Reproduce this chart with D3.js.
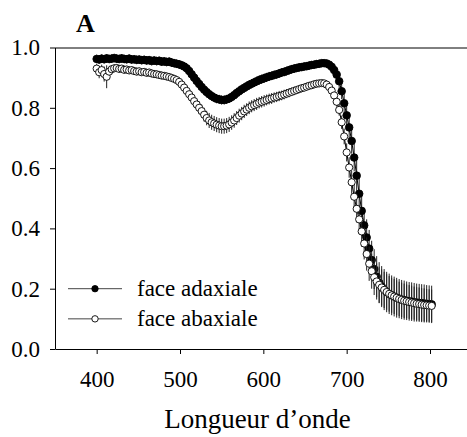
<!DOCTYPE html>
<html><head><meta charset="utf-8">
<script src="https://cdn.jsdelivr.net/npm/d3@7/dist/d3.min.js"></script>
<style>
html,body{margin:0;padding:0;background:#fff;}
svg text{font-family:"Liberation Serif","Times New Roman",serif;fill:#000;}
</style></head>
<body>
<svg id="chart" width="467" height="437"></svg>
<script>
// wavelength grid (nm), one point every 3 nm from 400 to 802
const wavelengths = d3.range(400, 803, 3);

// face adaxiale (filled circles)
const adaxiale = [
  0.962,0.960,0.963,0.961,0.964,0.962,0.963,0.965,0.963,0.962,
  0.964,0.962,0.961,0.963,0.960,0.961,0.959,0.960,0.958,0.959,
  0.957,0.958,0.955,0.957,0.955,0.956,0.953,0.954,0.952,0.953,
  0.950,0.948,0.946,0.944,0.941,0.937,0.931,0.922,0.911,0.900,
  0.889,0.879,0.869,0.860,0.852,0.845,0.839,0.834,0.830,0.828,
  0.826,0.826,0.828,0.831,0.836,0.842,0.849,0.855,0.861,0.866,
  0.871,0.876,0.880,0.884,0.888,0.892,0.895,0.898,0.901,0.904,
  0.906,0.909,0.911,0.914,0.917,0.919,0.922,0.925,0.928,0.930,
  0.932,0.934,0.935,0.937,0.938,0.940,0.942,0.943,0.945,0.946,
  0.948,0.948,0.947,0.943,0.936,0.925,0.910,0.888,0.855,0.815,
  0.775,0.735,0.690,0.635,0.575,0.515,0.458,0.410,0.370,0.333,
  0.295,0.265,0.240,0.220,0.207,0.197,0.189,0.183,0.178,0.174,
  0.170,0.167,0.164,0.162,0.160,0.158,0.157,0.155,0.154,0.153,
  0.152,0.151,0.150,0.149,0.148
];
const adaxialeErr = [
  0.014,0.014,0.014,0.014,0.014,0.014,0.014,0.014,0.014,0.014,
  0.014,0.014,0.014,0.014,0.014,0.014,0.014,0.014,0.014,0.014,
  0.014,0.014,0.014,0.014,0.014,0.014,0.014,0.014,0.014,0.014,
  0.014,0.014,0.014,0.014,0.014,0.015,0.015,0.015,0.015,0.015,
  0.015,0.015,0.015,0.015,0.015,0.015,0.015,0.015,0.015,0.015,
  0.015,0.015,0.015,0.015,0.015,0.015,0.015,0.015,0.015,0.015,
  0.015,0.015,0.015,0.015,0.015,0.015,0.015,0.015,0.015,0.015,
  0.014,0.014,0.014,0.014,0.014,0.014,0.014,0.014,0.014,0.014,
  0.013,0.013,0.013,0.013,0.013,0.013,0.013,0.013,0.013,0.013,
  0.012,0.012,0.012,0.012,0.013,0.015,0.018,0.022,0.026,0.030,
  0.034,0.038,0.042,0.046,0.050,0.053,0.056,0.058,0.060,0.062,
  0.064,0.066,0.068,0.068,0.068,0.068,0.067,0.067,0.066,0.066,
  0.066,0.065,0.065,0.065,0.064,0.064,0.064,0.064,0.063,0.063,
  0.063,0.063,0.062,0.062,0.062
];

// face abaxiale (open circles)
const abaxiale = [
  0.930,0.918,0.925,0.912,0.903,0.920,0.928,0.931,0.932,0.929,
  0.930,0.926,0.927,0.924,0.925,0.922,0.920,0.921,0.918,0.919,
  0.916,0.917,0.914,0.912,0.911,0.909,0.907,0.906,0.904,0.902,
  0.899,0.896,0.892,0.886,0.877,0.867,0.856,0.845,0.834,0.822,
  0.811,0.800,0.789,0.777,0.766,0.758,0.752,0.748,0.744,0.741,
  0.739,0.739,0.741,0.745,0.751,0.758,0.766,0.774,0.781,0.788,
  0.794,0.800,0.805,0.809,0.813,0.817,0.820,0.823,0.826,0.829,
  0.831,0.834,0.836,0.839,0.841,0.844,0.847,0.850,0.853,0.856,
  0.859,0.862,0.865,0.867,0.870,0.873,0.875,0.878,0.880,0.881,
  0.882,0.881,0.877,0.869,0.857,0.841,0.820,0.793,0.752,0.705,
  0.652,0.602,0.553,0.505,0.465,0.430,0.390,0.350,0.315,0.283,
  0.258,0.238,0.224,0.213,0.204,0.196,0.189,0.183,0.178,0.174,
  0.170,0.166,0.163,0.160,0.158,0.156,0.154,0.152,0.150,0.149,
  0.147,0.146,0.145,0.144,0.143
];
const abaxialeErr = [
  0.015,0.020,0.018,0.025,0.038,0.015,0.012,0.012,0.012,0.012,
  0.012,0.012,0.012,0.012,0.012,0.012,0.012,0.012,0.012,0.012,
  0.012,0.012,0.012,0.012,0.012,0.012,0.012,0.012,0.012,0.012,
  0.012,0.012,0.012,0.013,0.014,0.015,0.016,0.017,0.018,0.019,
  0.020,0.021,0.022,0.023,0.024,0.025,0.025,0.025,0.025,0.025,
  0.025,0.025,0.025,0.025,0.024,0.024,0.023,0.023,0.022,0.022,
  0.021,0.021,0.020,0.020,0.020,0.019,0.019,0.019,0.018,0.018,
  0.018,0.017,0.017,0.017,0.016,0.016,0.015,0.015,0.014,0.014,
  0.013,0.013,0.012,0.012,0.011,0.011,0.010,0.010,0.010,0.010,
  0.010,0.010,0.010,0.011,0.012,0.014,0.016,0.019,0.022,0.026,
  0.030,0.034,0.038,0.042,0.045,0.048,0.051,0.053,0.055,0.057,
  0.058,0.059,0.060,0.060,0.060,0.060,0.059,0.059,0.058,0.058,
  0.058,0.057,0.057,0.057,0.056,0.056,0.056,0.055,0.055,0.055,
  0.055,0.055,0.054,0.054,0.054
];

const xTicks = [400, 500, 600, 700, 800];
const yTicks = [0.0, 0.2, 0.4, 0.6, 0.8, 1.0];
const seriesNames = ["face adaxiale", "face abaxiale"];
const panelLabel = "A";
const xTitle = "Longueur d\u2019onde";

const svg = d3.select("#chart");
const x = d3.scaleLinear().domain([350, 850]).range([55, 471.67]);
const y = d3.scaleLinear().domain([0, 1]).range([349, 47.5]);
const serif = '"Liberation Serif","Times New Roman",serif';

// axes
const gx = svg.append("g").attr("transform", `translate(0,${y(0)})`)
  .call(d3.axisBottom(x).tickValues(xTicks).tickSize(5).tickSizeOuter(0).tickPadding(17).tickFormat(d3.format("d")));
const gy = svg.append("g").attr("transform", `translate(${x(350)},0)`)
  .call(d3.axisLeft(y).tickValues(yTicks).tickSize(5).tickSizeOuter(0).tickPadding(10).tickFormat(d3.format(".1f")));
[gx, gy].forEach(g => {
  g.attr("font-family", serif);
  g.selectAll("text").style("font-size", "23px").style("font-family", serif).attr("fill", "#000");
  g.selectAll("line,path").attr("stroke", "#000");
});
// top frame line
svg.append("line").attr("x1", x(350)).attr("x2", 467).attr("y1", y(1) + 0.5).attr("y2", y(1) + 0.5)
  .attr("stroke", "#000");

function drawSeries(vals, errs, filled) {
  const data = wavelengths.map((w, i) => ({w, v: vals[i], e: errs[i]}));
  const g = svg.append("g");
  g.selectAll("line.err").data(data).enter().append("line")
    .attr("x1", d => x(d.w)).attr("x2", d => x(d.w))
    .attr("y1", d => y(d.v - d.e)).attr("y2", d => y(d.v + d.e))
    .attr("stroke", "#222").attr("stroke-width", 1);
  g.append("path").datum(data)
    .attr("d", d3.line().x(d => x(d.w)).y(d => y(d.v)))
    .attr("fill", "none").attr("stroke", "#000").attr("stroke-width", 1);
  g.selectAll("circle").data(data).enter().append("circle")
    .attr("cx", d => x(d.w)).attr("cy", d => y(d.v)).attr("r", filled ? 3.8 : 3.6)
    .attr("fill", filled ? "#000" : "#fff").attr("stroke", "#000").attr("stroke-width", 0.9);
}
drawSeries(adaxiale, adaxialeErr, true);
drawSeries(abaxiale, abaxialeErr, false);

// legend
const legendY = [0.2, 0.1];
seriesNames.forEach((name, i) => {
  const ly = y(legendY[i]);
  svg.append("line").attr("x1", 68).attr("x2", 122).attr("y1", ly).attr("y2", ly)
    .attr("stroke", "#444").attr("stroke-width", 1);
  svg.append("circle").attr("cx", 95).attr("cy", ly).attr("r", 3.2)
    .attr("fill", i === 0 ? "#000" : "#fff").attr("stroke", "#000").attr("stroke-width", 0.9);
  svg.append("text").attr("x", 137).attr("y", ly + 7.5).style("font-size", "23px").text(name);
});

// titles
svg.append("text").attr("x", 76).attr("y", 31.7).style("font-size", "26px").style("font-weight", "bold").text(panelLabel);
svg.append("text").attr("x", 257.5).attr("y", 428).attr("text-anchor", "middle").style("font-size", "27px").text(xTitle);
</script>
</body></html>
